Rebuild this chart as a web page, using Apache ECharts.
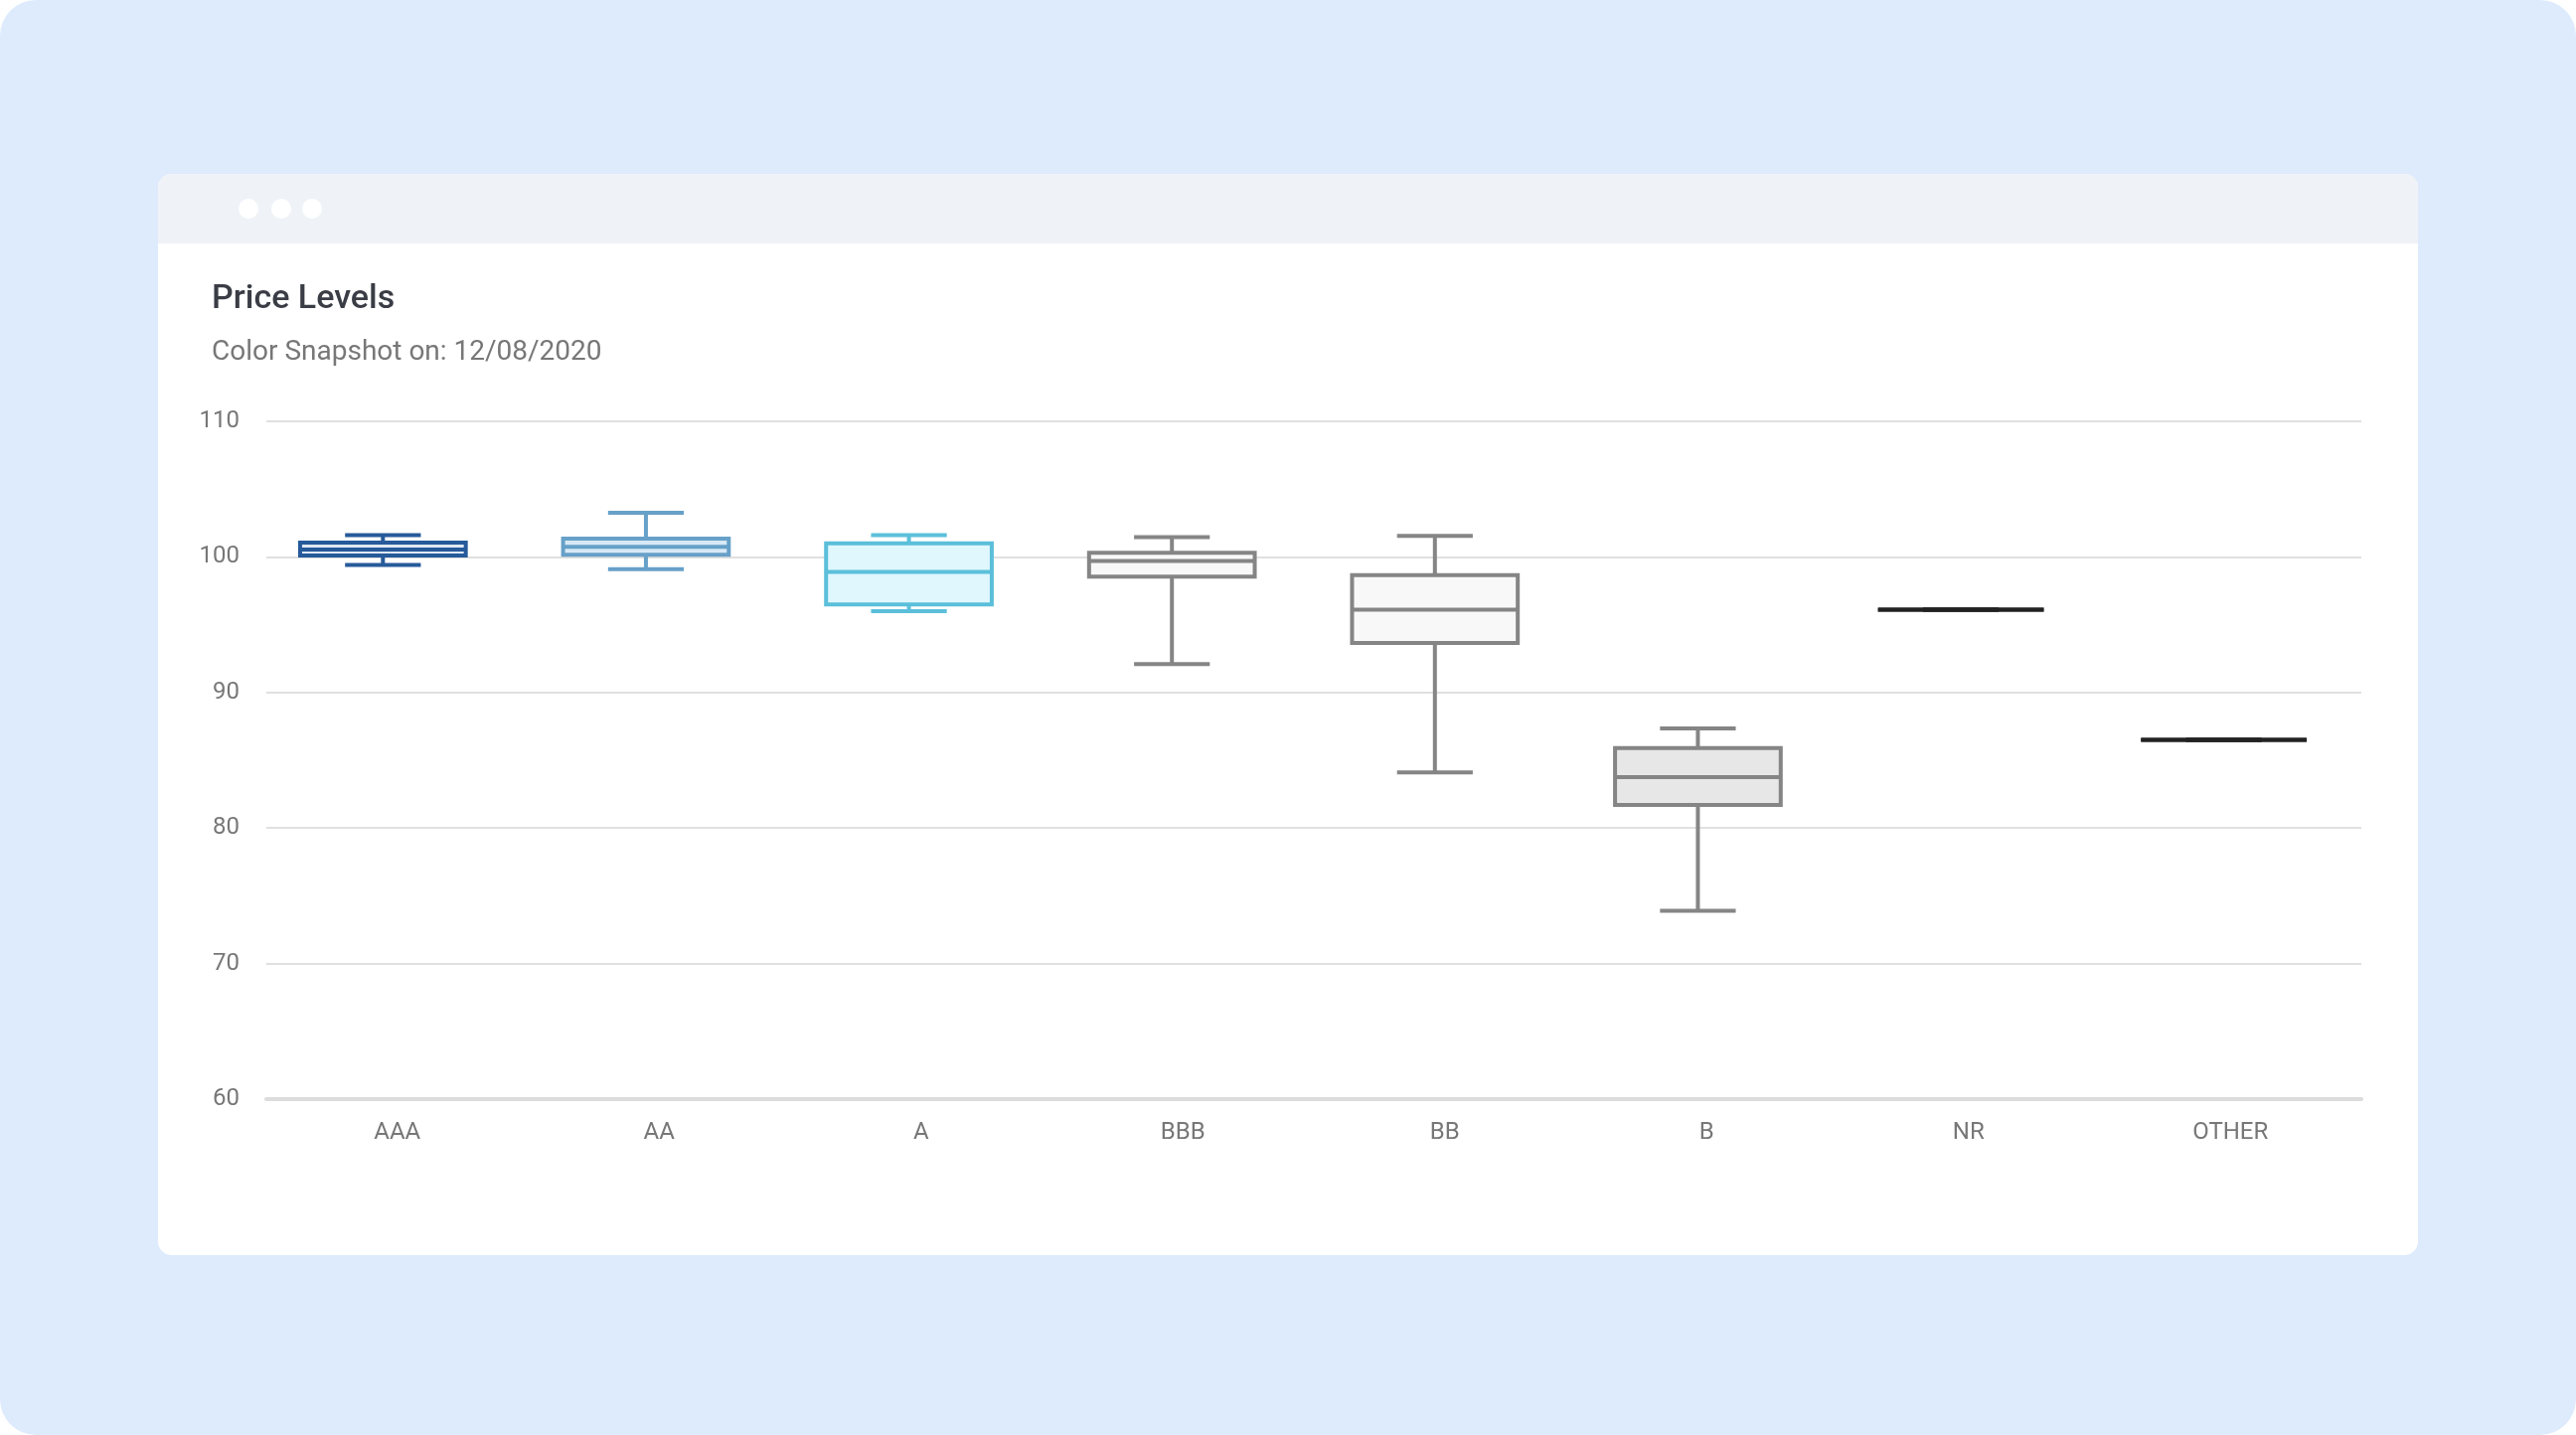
<!DOCTYPE html>
<html>
<head>
<meta charset="utf-8">
<title>Price Levels</title>
<script src="https://cdn.jsdelivr.net/npm/echarts@6/dist/echarts.min.js"></script>
<style>
  html, body { margin: 0; padding: 0; background: #ffffff; }
  .page {
    position: absolute; left: 0; top: 0; width: 2592px; height: 1444px;
    background: #ddebfd; border-radius: 36px; overflow: hidden;
  }
  .window {
    position: absolute; left: 159px; top: 175px; width: 2274px; height: 1088px;
    background: #ffffff; border-radius: 14px; overflow: hidden;
  }
  .bar { position: relative; height: 70px; background: #eff3f8; }
  .dot {
    position: absolute; top: 25px; width: 20px; height: 20px;
    border-radius: 50%; background: #ffffff;
  }
  #chart { width: 2274px; height: 1016px; }
</style>
</head>
<body>
<div class="page">
  <div class="window">
    <div class="bar">
      <span class="dot" style="left:81px"></span>
      <span class="dot" style="left:114px"></span>
      <span class="dot" style="left:145px"></span>
    </div>
    <div id="chart"></div>
  </div>
</div>
<script>
  // 评级分类
  const categories = ["AAA", "AA", "A", "BBB", "BB", "B", "NR", "OTHER"];
  // 箱线图五个数
  const lows    = [99.4, 99.1, 96.0, 92.1, 84.1, 73.9, 96.1, 86.5];
  const q1s     = [100.1, 100.15, 96.5, 98.55, 93.65, 81.7, 96.1, 86.5];
  const medians = [100.55, 100.75, 98.9, 99.7, 96.1, 83.75, 96.1, 86.5];
  const q3s     = [101.05, 101.35, 101.0, 100.3, 98.65, 85.9, 96.1, 86.5];
  const highs   = [101.6, 103.25, 101.6, 101.45, 101.55, 87.35, 96.1, 86.5];
  // y 轴刻度
  const yMin = 60;
  const yMax = 110;
  const yStep = 10;

  // 每个箱子的颜色
  const strokeColors = ["#265a9a", "#67a0c8", "#5bbfda", "#858585", "#858585", "#858585", "#222222", "#222222"];
  const fillColors = ["#dfe8f3", "#d7e9f6", "#dff7fd", "#f8f8f8", "#f8f8f8", "#e8e7e7", "#222222", "#222222"];

  const boxData = categories.map(function (c, i) {
    return [i, lows[i], q1s[i], medians[i], q3s[i], highs[i]];
  });

  function renderBox(params, api) {
    const i = api.value(0);
    const pLow = api.coord([i, api.value(1)]);
    const pQ1 = api.coord([i, api.value(2)]);
    const pMed = api.coord([i, api.value(3)]);
    const pQ3 = api.coord([i, api.value(4)]);
    const pHigh = api.coord([i, api.value(5)]);
    const band = api.size([1, 0])[0];
    const half = band * 0.315;
    const cap = band * 0.144;
    const x = pMed[0];
    const stroke = strokeColors[params.dataIndex];
    const line = { stroke: stroke, lineWidth: 4 };
    return {
      type: "group",
      children: [
        { type: "line", shape: { x1: x, y1: pHigh[1], x2: x, y2: pQ3[1] }, style: line },
        { type: "line", shape: { x1: x, y1: pQ1[1], x2: x, y2: pLow[1] }, style: line },
        { type: "line", shape: { x1: x - cap, y1: pHigh[1], x2: x + cap, y2: pHigh[1] }, style: line },
        { type: "line", shape: { x1: x - cap, y1: pLow[1], x2: x + cap, y2: pLow[1] }, style: line },
        {
          type: "rect",
          shape: { x: x - half, y: pQ3[1], width: half * 2, height: pQ1[1] - pQ3[1] },
          style: { fill: fillColors[params.dataIndex], stroke: stroke, lineWidth: 4 }
        },
        { type: "line", shape: { x1: x - half, y1: pMed[1], x2: x + half, y2: pMed[1] }, style: line }
      ]
    };
  }

  let myChart = echarts.init(document.getElementById("chart"));
  let options = {
    animation: false,
    textStyle: { fontFamily: "Roboto" },
    title: {
      text: "Price Levels",
      subtext: "Color Snapshot on: 12/08/2020",
      left: 54,
      top: 36,
      itemGap: 17,
      padding: 0,
      textStyle: { color: "#3a3d45", fontSize: 34, fontWeight: 500, lineHeight: 40, fontFamily: "Roboto" },
      subtextStyle: { color: "#777777", fontSize: 28, lineHeight: 34, fontFamily: "Roboto" }
    },
    // 两个网格：0 画箱子，1 画坐标轴和分割线
    grid: [
      { left: 94, top: 179, right: 63, bottom: 155 },
      { left: 109, top: 179, right: 57, bottom: 155 }
    ],
    xAxis: [
      {
        type: "category",
        gridIndex: 0,
        data: categories,
        show: false
      },
      {
        type: "category",
        gridIndex: 1,
        data: categories,
        axisLine: { lineStyle: { color: "#dcdcdc", width: 4 } },
        axisTick: { alignWithLabel: true, length: 18, lineStyle: { color: "#dddddd", width: 2 } },
        axisLabel: { color: "#777777", fontSize: 24, margin: 22 },
        splitLine: { show: false }
      }
    ],
    yAxis: [
      {
        type: "value",
        gridIndex: 0,
        min: yMin,
        max: yMax,
        interval: yStep,
        show: false
      },
      {
        type: "value",
        gridIndex: 1,
        min: yMin,
        max: yMax,
        interval: yStep,
        axisLine: { show: false },
        axisTick: { show: false },
        axisLabel: { color: "#777777", fontSize: 24, margin: 27 },
        splitLine: { lineStyle: { color: "#e0e0e0", width: 2 } }
      }
    ],
    series: [
      {
        type: "custom",
        xAxisIndex: 0,
        yAxisIndex: 0,
        renderItem: renderBox,
        encode: { x: 0, y: [1, 2, 3, 4, 5] },
        data: boxData
      }
    ]
  };
  myChart.setOption(options);
  window.addEventListener("resize", () => {
    myChart.resize();
  });
</script>
</body>
</html>
